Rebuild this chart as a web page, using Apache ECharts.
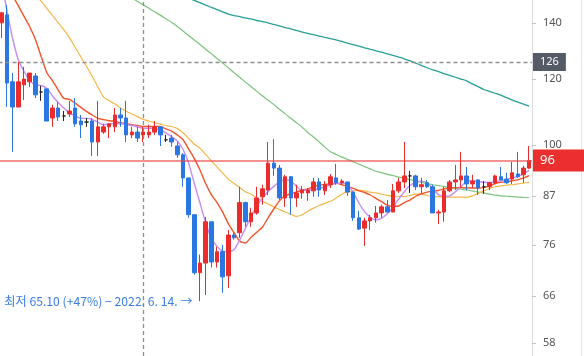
<!DOCTYPE html>
<html>
<head>
<meta charset="utf-8">
<script src="https://cdn.jsdelivr.net/npm/echarts@6/dist/echarts.min.js"></script>
<style>
html,body{margin:0;padding:0;background:#fff;}
#c{width:584px;height:356px;}
</style>
</head>
<body>
<div id="c"></div>
<script>
// ---- data (prices) ----
const opens  = [140.1,143.2,119.1,111.1,118.1,119.1,121.0,115.8,116.8,107.8,110.8,108.4,109.0,110.8,106.9,106.6,106.9,100.9,103.7,105.2,105.2,108.7,107.8,102.9,103.7,102.9,102.9,103.7,105.2,101.5,102.0,99.8,97.4,91.4,82.6,70.4,72.3,81.0,72.5,74.6,69.8,78.1,78.6,85.4,81.0,83.0,86.8,88.4,95.2,93.9,86.5,91.7,86.5,87.7,87.7,88.2,90.4,88.2,89.7,91.4,90.2,90.4,87.9,81.9,79.6,81.2,81.9,83.0,84.4,83.2,88.2,90.4,91.9,91.9,89.2,90.2,89.2,83.0,83.2,88.2,90.4,90.9,91.9,89.9,90.9,89.2,89.2,90.2,91.7,91.1,91.1,92.4,92.2,93.9];
const closes = [144.0,118.7,111.1,119.1,120.0,122.0,114.9,115.8,106.9,110.8,108.1,108.4,109.9,106.1,105.8,106.6,100.9,105.2,105.2,106.1,108.7,107.8,102.9,103.7,102.0,103.7,103.7,105.2,102.9,101.5,100.9,97.4,91.4,82.6,70.4,72.3,81.0,72.5,74.6,69.6,78.1,77.5,85.4,81.0,83.0,86.5,88.7,95.2,93.9,86.5,91.7,86.5,87.7,88.4,88.4,90.4,88.4,89.7,91.7,90.2,90.6,87.9,81.9,79.4,81.2,81.9,83.0,84.4,83.2,88.2,90.4,91.9,91.9,89.2,89.7,89.2,83.0,83.2,88.2,90.4,90.9,91.9,89.9,90.6,88.9,89.2,90.2,91.9,90.9,90.2,92.7,91.7,93.9,95.9];
const lows   = [134.4,111.1,98.2,111.1,113.3,117.4,113.9,113.0,106.9,105.2,106.9,106.9,108.1,105.2,102.0,105.2,97.1,97.1,103.2,102.0,103.7,105.2,100.9,102.0,100.9,100.9,102.0,102.9,99.8,100.9,99.6,96.6,89.2,81.9,70.0,65.1,66.2,71.4,71.4,66.6,67.5,77.1,77.5,79.9,79.9,82.6,84.9,87.2,91.9,86.0,84.4,82.6,84.4,86.3,85.8,86.8,86.8,87.2,88.9,89.7,89.7,87.0,81.2,79.2,75.8,79.2,80.8,81.9,83.2,83.2,87.7,88.9,87.7,88.4,87.7,88.9,83.0,80.5,81.0,87.9,88.4,88.9,88.4,88.9,87.2,87.5,88.4,89.9,90.9,89.9,89.9,91.4,90.2,93.7];
const highs  = [144.4,147.2,122.0,125.8,124.1,122.0,122.0,117.8,116.8,111.8,112.7,109.9,113.0,113.9,108.7,107.8,107.8,113.0,106.1,106.1,110.8,110.8,113.0,105.2,105.2,105.2,105.8,106.9,105.2,102.9,102.9,100.9,97.9,91.4,82.6,74.0,82.1,81.0,75.6,76.0,79.2,78.6,89.2,85.6,84.2,89.2,89.7,100.9,101.7,94.7,92.2,91.9,89.7,89.4,88.9,91.4,91.4,90.6,92.4,95.0,91.1,90.4,87.9,83.5,81.9,82.6,84.6,84.9,86.0,89.9,91.4,100.9,93.2,92.2,91.4,90.9,89.7,83.7,89.2,90.9,94.7,98.2,94.2,92.2,91.1,90.6,90.4,92.2,94.2,92.7,95.5,98.2,94.5,99.8];

const ma5   = [157.0,144.9,134.1,126.5,122.6,119.5,118.1,117.9,117.0,114.6,112.5,110.8,109.4,108.4,107.7,107.7,107.4,106.6,105.8,106.0,106.2,106.1,105.9,105.6,105.2,104.8,104.8,104.8,104.3,103.5,102.4,101.2,98.9,95.2,90.0,85.3,80.8,77.4,75.7,74.7,74.6,75.0,77.0,79.6,82.1,84.5,86.5,88.0,89.3,90.4,90.9,90.6,89.3,88.2,88.5,88.4,88.8,89.2,89.7,90.0,90.1,89.8,87.8,85.3,83.3,82.0,81.4,81.8,82.8,84.3,86.2,88.0,89.5,90.3,90.6,90.2,88.8,87.3,86.9,87.0,88.0,89.3,90.5,90.7,90.5,90.3,90.2,90.5,90.7,91.0,91.4,91.8,92.4,93.3];
const ma10  = [159.8,155.3,150.9,146.8,142.6,138.6,133.8,127.8,122.2,119.5,116.5,113.8,113.5,112.3,111.0,109.8,108.7,107.7,107.3,107.0,106.8,106.4,106.1,105.8,105.6,105.3,105.3,105.3,105.3,104.6,104.0,102.9,101.6,99.0,96.4,93.4,90.0,87.3,85.4,83.2,80.6,78.6,76.8,76.4,77.6,78.7,79.8,81.9,83.9,85.8,87.0,87.5,87.9,88.4,88.7,89.2,89.6,89.8,89.9,90.1,89.7,89.3,88.8,88.2,87.8,87.2,86.4,85.6,84.8,84.5,84.6,85.4,86.0,86.9,87.5,87.9,88.2,88.3,88.7,88.9,89.0,89.0,88.9,88.9,88.9,89.0,89.4,90.0,90.3,90.4,90.7,90.9,91.4,92.0];
const ma20  = [170.5,167.2,163.9,160.8,157.6,154.6,151.5,148.7,145.8,143.0,140.2,137.5,134.5,131.0,127.6,124.3,120.9,117.5,114.2,113.1,112.0,110.8,109.8,109.0,108.2,107.4,106.9,106.4,106.0,105.6,105.3,104.7,103.5,101.9,100.3,99.2,97.5,95.8,94.2,92.6,91.1,90.0,89.0,88.0,87.4,86.5,85.7,85.1,84.4,83.8,83.2,82.7,82.2,82.6,83.4,84.1,84.7,85.2,85.7,86.5,87.4,88.0,88.2,88.4,88.2,87.9,87.7,87.4,87.1,86.9,86.9,86.8,87.1,87.4,87.4,87.1,86.8,86.8,86.7,86.7,86.7,86.7,86.7,87.0,87.6,88.2,88.8,89.2,89.4,89.6,89.7,89.9,90.1,90.3];
const ma60  = [null,null,null,null,null,null,null,null,null,null,null,null,null,null,null,null,null,null,null,null,null,null,null,150.0,148.6,147.2,145.8,144.4,143.1,141.7,140.3,138.7,137.0,135.3,133.6,132.0,130.3,128.7,127.0,125.4,123.8,122.1,120.6,119.0,117.5,116.0,114.6,113.2,111.9,110.4,109.1,107.7,106.4,105.1,103.6,102.3,100.9,99.5,98.2,97.5,96.8,96.2,95.6,94.9,94.3,93.7,93.1,92.7,92.3,92.0,91.6,91.3,91.0,90.6,90.3,90.0,89.7,89.5,89.3,89.0,88.8,88.6,88.4,88.2,87.9,87.7,87.4,87.2,87.0,86.9,86.8,86.7,86.6,86.6];
const ma120 = [null,null,null,null,null,null,null,null,null,null,null,null,null,null,null,null,null,null,null,null,null,null,null,null,null,null,null,null,null,null,null,null,null,150.0,149.0,148.1,147.1,146.2,145.3,144.4,143.5,142.9,142.5,142.0,141.6,141.0,140.6,140.1,139.5,138.9,138.3,137.8,137.2,136.6,136.1,135.6,135.1,134.6,134.1,133.7,133.1,132.5,131.9,131.4,130.8,130.2,129.7,129.2,128.6,128.1,127.5,126.9,126.2,125.4,124.6,123.8,123.1,122.5,121.8,121.2,120.6,120.0,119.4,118.4,117.5,116.6,116.0,115.4,114.8,114.0,113.3,112.6,112.0,111.4];

const yTicks = [58, 66, 76, 87, 100, 120, 140];
const yMin = 55.97, yMax = 149.19;
const lastPrice = 95.9;
const crossPrice = 125.8;
const crossIndex = 25;
const lowIndex = 35;
const lowValue = 65.10;
const lowPct = '+47%';
const lowDate = '2022. 6. 14.';

// ---- build ----
const cats = opens.map((_, i) => 'D' + i);
const ohlc = opens.map((o, i) => [o, closes[i], lows[i], highs[i]]);

const UP = '#eb2c2c', DOWN = '#2a76e2';
const FONT = '"Noto Sans", "Noto Sans CJK KR", sans-serif';

function maLine(name, data, color, width) {
  return {
    name, type: 'line', data, symbol: 'none', showSymbol: false, silent: true,
    smooth: 0.2, connectNulls: false, z: 2,
    lineStyle: { color, width }, itemStyle: { color }
  };
}

const chart = echarts.init(document.getElementById('c'), null, { renderer: 'canvas' });
chart.setOption({
  animation: false,
  backgroundColor: '#fff',
  grid: { left: -1.5, right: 52, top: 0, bottom: 0, containLabel: false, outerBoundsMode: 'none' },
  xAxis: {
    type: 'category', data: cats, boundaryGap: true,
    axisLine: { show: false }, axisTick: { show: false }, axisLabel: { show: false }, splitLine: { show: false }
  },
  yAxis: {
    type: 'log', logBase: 10, position: 'right', min: yMin, max: yMax,
    axisLine: { show: true, lineStyle: { color: '#dcdcdc', width: 1 } },
    axisTick: { show: true, customValues: yTicks, length: 4, lineStyle: { color: '#c4c4c4' } },
    axisLabel: { customValues: yTicks, color: '#555', fontSize: 11, margin: 11, fontFamily: FONT,
      formatter: v => String(Math.round(v)) },
    splitLine: { show: false }
  },
  graphic: [{
    type: 'line', shape: { x1: 581.5, y1: 0, x2: 581.5, y2: 356 },
    style: { stroke: '#e4e4e4', lineWidth: 1 }, silent: true
  }],
  series: [
    maLine('MA120', ma120, '#2a9f98', 1.3),
    maLine('MA60', ma60, '#7cc47d', 1.2),
    maLine('MA20', ma20, '#f7b649', 1.2),
    maLine('MA10', ma10, '#f4532b', 1.4),
    maLine('MA5', ma5, '#c58cf7', 1.4),
    {
      name: 'price', type: 'candlestick', data: ohlc, barWidth: 4, z: 3,
      itemStyle: { color: UP, color0: DOWN, borderColor: UP, borderColor0: DOWN, borderColorDoji: '#222', borderWidth: 1 },
      markLine: {
        symbol: ['none', 'none'], silent: true, animation: false,
        data: [
          { yAxis: lastPrice,
            lineStyle: { color: 'rgba(236,70,70,0.6)', width: 2, type: 'solid' },
            label: { show: true, position: 'end', distance: 1, formatter: String(Math.round(lastPrice)),
              backgroundColor: '#eb2f2f', color: '#fff', fontSize: 13, fontFamily: FONT,
              padding: [5, 30, 4, 7] } },
          { yAxis: crossPrice,
            lineStyle: { color: '#8e8e8e', width: 1.3, type: [4, 3] },
            label: { show: true, position: 'end', distance: 1, formatter: String(Math.round(crossPrice)),
              backgroundColor: '#545a66', color: '#fff', fontSize: 11, fontFamily: FONT,
              padding: [4, 7, 3, 7] } },
          { xAxis: cats[crossIndex],
            lineStyle: { color: '#8e8e8e', width: 1.3, type: [4, 3] },
            label: { show: false } }
        ]
      },
      markPoint: {
        symbol: 'circle', symbolSize: 1, silent: true, animation: false,
        itemStyle: { color: 'rgba(0,0,0,0)' },
        data: [{
          coord: [cats[lowIndex], lowValue],
          label: { show: true, position: 'left', distance: 7,
            formatter: '최저 ' + lowValue.toFixed(2) + ' (' + lowPct + ') − ' + lowDate + ' →',
            color: '#3a7de6', fontSize: 12.2, fontFamily: '"Noto Sans CJK KR", sans-serif' }
        }]
      }
    }
  ]
});
</script>
</body>
</html>
